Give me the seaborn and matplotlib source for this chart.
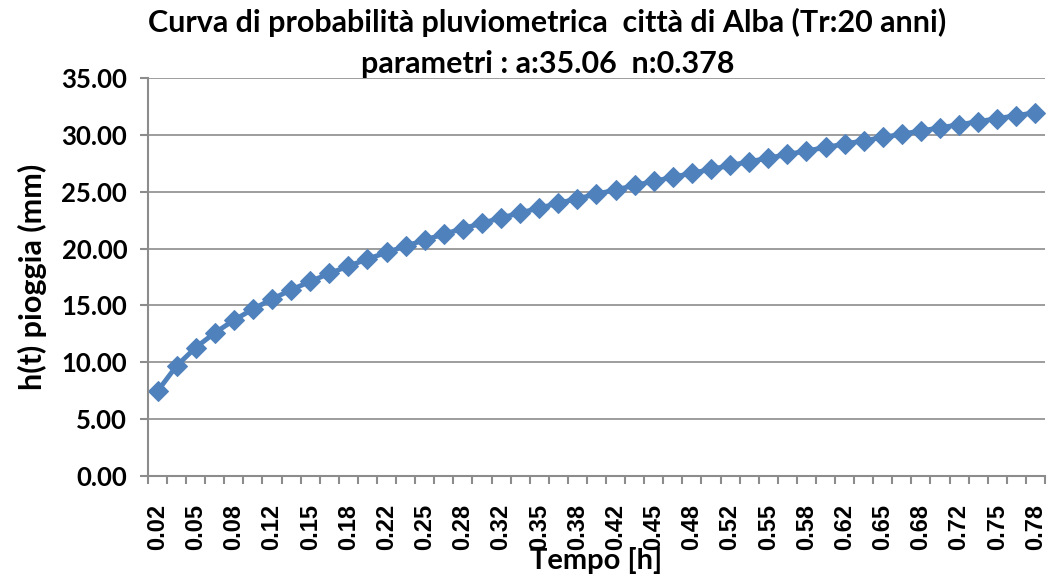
import numpy as np
import pandas as pd
import matplotlib
matplotlib.use('Agg')
import matplotlib.pyplot as plt
import seaborn as sns

# tempo [h] labels (one per minute) and rain height h(t) [mm]
tempo = ['0.02', '0.03', '0.05', '0.07', '0.08', '0.10', '0.12', '0.13', '0.15', '0.17',
         '0.18', '0.20', '0.22', '0.23', '0.25', '0.27', '0.28', '0.30', '0.32', '0.33',
         '0.35', '0.37', '0.38', '0.40', '0.42', '0.43', '0.45', '0.47', '0.48', '0.50',
         '0.52', '0.53', '0.55', '0.57', '0.58', '0.60', '0.62', '0.63', '0.65', '0.67',
         '0.68', '0.70', '0.72', '0.73', '0.75', '0.77', '0.78']
pioggia = [7.46, 9.69, 11.30, 12.59, 13.70, 14.68, 15.56, 16.37, 17.11, 17.81,
           18.46, 19.08, 19.66, 20.22, 20.76, 21.27, 21.76, 22.24, 22.70, 23.14,
           23.57, 23.99, 24.39, 24.79, 25.17, 25.55, 25.92, 26.28, 26.63, 26.97,
           27.31, 27.64, 27.96, 28.28, 28.59, 28.90, 29.20, 29.49, 29.78, 30.07,
           30.35, 30.63, 30.90, 31.17, 31.44, 31.70, 31.96]
y_ticks = [0, 5, 10, 15, 20, 25, 30, 35]

df = pd.DataFrame({'pos': np.arange(len(tempo)), 'h': pioggia})

sns.set_style('white')
plt.rcParams['font.family'] = ['Lato', 'DejaVu Sans']
plt.rcParams['text.color'] = 'black'
plt.rcParams['xtick.color'] = 'black'
plt.rcParams['ytick.color'] = 'black'
plt.rcParams['axes.labelcolor'] = 'black'

fig = plt.figure(figsize=(10.51, 5.81), dpi=100)
ax = fig.add_axes([0.1408, 0.1807, 0.8535, 0.685])

blue = '#4F81BD'
grey = '#8C8C8C'
sns.lineplot(data=df, x='pos', y='h', ax=ax, color=blue, linewidth=3.5,
             marker='D', markersize=10.5, markeredgecolor=blue)

ax.set_xlim(-0.5, len(tempo) - 0.5)
ax.set_ylim(0, 35)
ax.set_yticks(y_ticks)
ax.set_yticklabels([f'{v:.2f}' for v in y_ticks], fontsize=18.5, fontweight='bold')
ax.yaxis.grid(True, color=grey, linewidth=1.2)
ax.xaxis.grid(False)

# category labels every other point, tick marks between all categories
ax.set_xticks(df['pos'][::2])
ax.set_xticklabels(tempo[::2], rotation=90, fontsize=17, fontweight='bold',
                   family=['Liberation Sans', 'DejaVu Sans'])
ax.set_xticks(np.arange(len(tempo) + 1) - 0.5, minor=True)
ax.tick_params(axis='x', which='major', length=0, pad=20)
ax.tick_params(axis='x', which='minor', length=6, width=1.5, color=grey, direction='out')
ax.tick_params(axis='y', length=6, width=1.5, color=grey, direction='out', pad=9)
ax.tick_params(bottom=True, left=True, which='both')

for s in ['top', 'right']:
    ax.spines[s].set_visible(False)
for s in ['left', 'bottom']:
    ax.spines[s].set_color(grey)
    ax.spines[s].set_linewidth(1.5)

ax.set_xlabel('Tempo [h]', fontsize=21, fontweight='bold', labelpad=-2)
ax.set_ylabel('h(t) pioggia (mm)', fontsize=22, fontweight='bold', labelpad=10)

fig.text(0.521, 0.962, 'Curva di probabilità pluviometrica  città di Alba (Tr:20 anni)',
         ha='center', va='center', fontsize=22, fontweight='bold')
fig.text(0.521, 0.89, 'parametri : a:35.06  n:0.378',
         ha='center', va='center', fontsize=22, fontweight='bold')

fig.savefig('out.png', dpi=100)
